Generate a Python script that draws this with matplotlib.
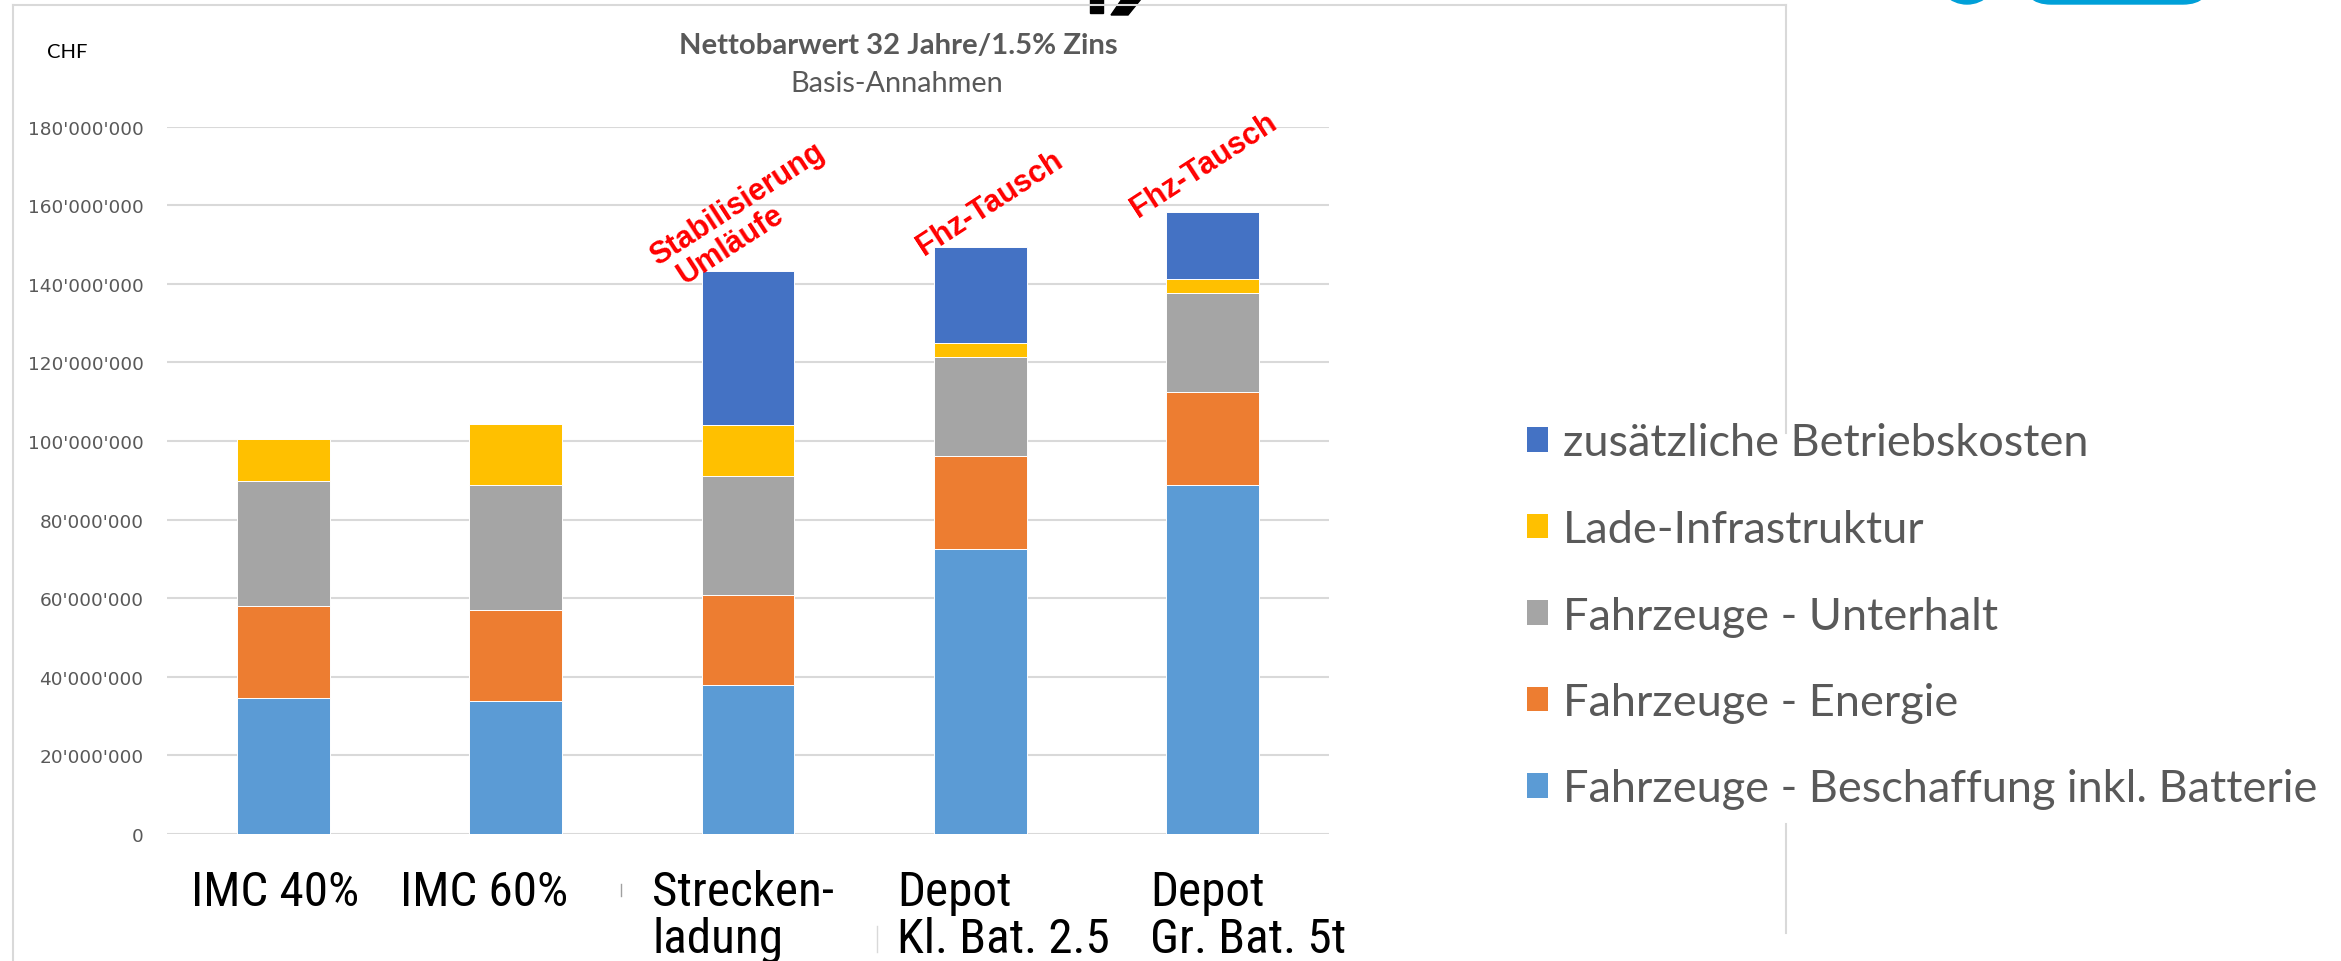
import matplotlib
matplotlib.use("Agg")
import matplotlib.pyplot as plt
from matplotlib import font_manager
from matplotlib.patches import Patch, Ellipse, FancyBboxPatch, Polygon
from matplotlib.lines import Line2D
from matplotlib.ticker import FuncFormatter, MultipleLocator

# ---------------- data ----------------
categories = ["IMC 40%", "IMC 60%", "Strecken-\nladung", "Depot\nKl. Bat. 2.5", "Depot\nGr. Bat. 5t"]
beschaffung = [34.7e6, 33.9e6, 37.8e6, 72.6e6, 88.9e6]
energie = [23.4e6, 23.0e6, 23.1e6, 23.7e6, 23.6e6]
unterhalt = [31.8e6, 32.0e6, 30.3e6, 25.2e6, 25.2e6]
lade_infra = [10.6e6, 15.5e6, 12.9e6, 3.4e6, 3.4e6]
zusaetzlich = [0.0, 0.0, 39.2e6, 24.4e6, 17.2e6]
series_names = ["Fahrzeuge - Beschaffung inkl. Batterie", "Fahrzeuge - Energie",
                "Fahrzeuge - Unterhalt", "Lade-Infrastruktur", "zusätzliche Betriebskosten"]
series_values = [beschaffung, energie, unterhalt, lade_infra, zusaetzlich]
title_text = "Nettobarwert 32 Jahre/1.5% Zins"
subtitle_text = "Basis-Annahmen"
unit_text = "CHF"
annotation_texts = ["Stabilisierung", "Umläufe", "Fhz-Tausch", "Fhz-Tausch"]

# ---------------- style ----------------
colors = ["#5B9BD5", "#ED7D31", "#A5A5A5", "#FFC000", "#4472C4"]
W, H, DPI = 2341, 962, 100
avail = {f.name for f in font_manager.fontManager.ttflist}
def pick(*names):
    for n in names:
        if n in avail:
            return n
    return "DejaVu Sans"
F_CAL = pick("Lato", "Open Sans", "DejaVu Sans")
F_ARIAL = pick("Liberation Sans", "Arial", "DejaVu Sans")
F_NARROW = pick("Liberation Sans Narrow", "Arial Narrow", "Roboto Condensed", "Liberation Sans")
F_TICK = pick("DejaVu Sans")
GREY_TXT = "#595959"
GRID = "#D9D9D9"

def fx(x):
    return x / W
def fy(y):
    return 1 - y / H

fig = plt.figure(figsize=(W / DPI, H / DPI), dpi=DPI, facecolor="white")
ax = fig.add_axes([fx(167), fy(835), fx(1329) - fx(167), fy(127.6) - fy(835)])
renderer = fig.canvas.get_renderer()

def fit(t, target_w):
    w = t.get_window_extent(renderer).width
    t.set_fontsize(t.get_fontsize() * target_w / w)

# ---------------- bars ----------------
x = list(range(len(categories)))
bottom = [0.0] * len(categories)
handles = []
for name, vals, c in zip(series_names, series_values, colors):
    ax.bar(x, vals, width=0.40, bottom=bottom, color=c, edgecolor="white",
           linewidth=0.7, label=name, zorder=3)
    bottom = [b + v for b, v in zip(bottom, vals)]
    handles.append(Patch(facecolor=c, edgecolor="none"))

ax.set_xlim(-0.5, len(categories) - 0.5)
ax.set_ylim(0, 180e6)
ax.yaxis.set_major_locator(MultipleLocator(20e6))
ax.yaxis.set_major_formatter(FuncFormatter(lambda v, p: f"{v:,.0f}".replace(",", "'")))
ax.grid(axis="y", color=GRID, linewidth=1.5, zorder=0)
ax.set_axisbelow(True)
for s in ax.spines.values():
    s.set_visible(False)
ax.tick_params(axis="y", length=0, pad=17, labelsize=13.3, labelcolor=GREY_TXT)
ax.tick_params(axis="x", length=0, labelbottom=False)
for lab in ax.get_yticklabels():
    lab.set_fontfamily(F_TICK)

# x category labels (left aligned text boxes as in the original)
label_left_px = [191, 400, 652, 897, 1150]
base1_px, line_step_px = 906, 47
probe = fig.text(0, 0, "Strecken-", family=F_NARROW, fontsize=30)
fit(probe, 182)
xl_fs = probe.get_fontsize()
probe.remove()
probe = fig.text(0, 0, "l\nl", family=F_NARROW, fontsize=xl_fs, linespacing=1.0)
ext = probe.get_window_extent(renderer)
probe2 = fig.text(0, 0, "l", family=F_NARROW, fontsize=xl_fs)
step1 = ext.height - probe2.get_window_extent(renderer).height
probe.remove(); probe2.remove()
xl_ls = line_step_px / step1
for i, (cat, lx) in enumerate(zip(categories, label_left_px)):
    n = cat.count("\n")
    fig.text(fx(lx), fy(base1_px + n * line_step_px), cat, ha="left", va="baseline",
             fontsize=xl_fs, family=F_NARROW, color="black", linespacing=xl_ls)

# ---------------- titles ----------------
t1 = fig.text(fx(898), fy(46), title_text, ha="center", va="center", family=F_CAL,
              fontweight="bold", color=GREY_TXT, fontsize=20)
fit(t1, 438)
t2 = fig.text(fx(897), fy(84), subtitle_text, ha="center", va="center", family=F_CAL,
              color=GREY_TXT, fontsize=18)
fit(t2, 212)
t3 = fig.text(fx(47), fy(53), unit_text, ha="left", va="center", family=F_CAL,
              color="black", fontsize=14)
fit(t3, 40)

# ---------------- red annotations ----------------
ann_pos = [(657, 266), (684, 285), (924, 256), (1138, 218)]
for txt, (px, py) in zip(annotation_texts, ann_pos):
    fig.text(fx(px), fy(py), txt, rotation=33, rotation_mode="anchor", ha="left",
             va="baseline", family=F_ARIAL, fontweight="bold", color="#FF0000", fontsize=22)

# ---------------- legend ----------------
tmp = fig.text(0, 0, series_names[0], family=F_CAL, fontsize=30)
fit(tmp, 755)
leg_fs = tmp.get_fontsize()
tmp.remove()
fpx = leg_fs * DPI / 72.0

def make_legend(ls):
    return fig.legend(handles[::-1], series_names[::-1], loc="center left",
                      bbox_to_anchor=(fx(1527), fy(617)), frameon=False,
                      prop={"family": F_CAL, "size": leg_fs}, labelcolor=GREY_TXT,
                      handlelength=21 / fpx, handleheight=21 / fpx,
                      handletextpad=15 / fpx, labelspacing=ls,
                      borderpad=0, borderaxespad=0)

ls = 1.0
leg = make_legend(ls)
fig.canvas.draw()
texts = leg.get_texts()
c0 = texts[0].get_window_extent(renderer)
c4 = texts[-1].get_window_extent(renderer)
cur = ((c0.y0 + c0.y1) / 2 - (c4.y0 + c4.y1) / 2) / 4
ls = ls + (86.5 - cur) / fpx
leg.remove()
leg = make_legend(ls)

# ---------------- frame & decorations ----------------
def fline(x0, y0, x1, y1, color=GRID, lw=1.5):
    fig.add_artist(Line2D([fx(x0), fx(x1)], [fy(y0), fy(y1)], transform=fig.transFigure,
                          color=color, linewidth=lw))

fline(12.7, 5.7, 1786, 5.7)
fline(12.7, 5.7, 12.7, 962)
fline(1786, 5.7, 1786, 434)
fline(1786, 825, 1786, 934)
fline(621, 885, 621, 897, color="#A0A0A0", lw=1.0)
fline(877, 927, 877, 953, color=GRID, lw=1.0)

# cut-off glyph and logo at the top edge of the slide
fig.add_artist(Polygon([[fx(1090), fy(0)], [fx(1103), fy(0)], [fx(1103), fy(14)], [fx(1090), fy(14)]],
                       closed=True, transform=fig.transFigure, color="black"))
fig.add_artist(Polygon([[fx(1122), fy(0)], [fx(1141), fy(0)], [fx(1128), fy(16)], [fx(1111), fy(16)]],
                       closed=True, transform=fig.transFigure, color="black"))
fig.add_artist(Ellipse((fx(1967), fy(-26)), 62 / W, 62 / H, transform=fig.transFigure,
                       color="#00A0D8"))
fig.add_artist(FancyBboxPatch((fx(2023), fy(5)), (2211 - 2023) / W, 60 / H,
                              boxstyle="round,pad=0,rounding_size=0.012",
                              transform=fig.transFigure, color="#00A0D8",
                              mutation_aspect=W / H))

fig.savefig("out.png", dpi=DPI, facecolor="white")
